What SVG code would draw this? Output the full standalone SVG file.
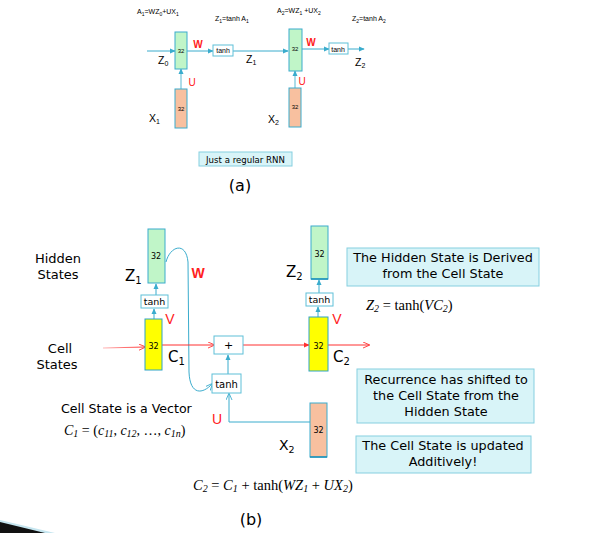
<svg xmlns="http://www.w3.org/2000/svg" width="616" height="533" viewBox="0 0 616 533">
<defs>
<marker id="ah" viewBox="0 0 8 8" refX="7" refY="4" markerWidth="6" markerHeight="6" orient="auto" markerUnits="userSpaceOnUse"><path d="M0,0.5 L8,4 L0,7.5 Z" fill="#3aaccd"/></marker>
<marker id="ahr" viewBox="0 0 8 8" refX="7" refY="4" markerWidth="7" markerHeight="7" orient="auto" markerUnits="userSpaceOnUse"><path d="M0,0.5 L8,4 L0,7.5" fill="none" stroke="#ff3030" stroke-width="1"/></marker>
<marker id="ahrf" viewBox="0 0 8 8" refX="7" refY="4" markerWidth="6" markerHeight="6" orient="auto" markerUnits="userSpaceOnUse"><path d="M0,0.5 L8,4 L0,7.5 Z" fill="#ff3030"/></marker>
<marker id="aho" viewBox="0 0 8 8" refX="7" refY="4" markerWidth="7" markerHeight="7" orient="auto" markerUnits="userSpaceOnUse"><path d="M0,0.5 L8,4 L0,7.5" fill="none" stroke="#3aaccd" stroke-width="1"/></marker>
<linearGradient id="redfade" x1="0" y1="0" x2="1" y2="0"><stop offset="0" stop-color="#ff3030" stop-opacity="0.35"/><stop offset="1" stop-color="#ff3030"/></linearGradient>
</defs>
<style>
.green{fill:#c0f5c8;stroke:#3aaccd;stroke-width:1}
.orange{fill:#f8c09f;stroke:#3aaccd;stroke-width:1}
.yellow{fill:#ffff00;stroke:#2ea3c6;stroke-width:1}
.tbox{fill:#ffffff;stroke:#5ec0d8;stroke-width:1}
.note{fill:#d8f4f8;stroke:#86cfe0;stroke-width:1}
.c{fill:none;stroke:#3aaccd;stroke-width:1}
.cl{fill:none;stroke:#8fd0e0;stroke-width:1.5}
.r{fill:none;stroke:#ff3030;stroke-width:1}
.t{font-family:"DejaVu Sans",sans-serif;fill:#000}
.h{font-family:"Liberation Sans",Arial,sans-serif;fill:#000}
.red{font-family:"Liberation Sans",Arial,sans-serif;fill:#ff2020}
.m{font-family:"Liberation Serif","DejaVu Serif",serif;fill:#000}
</style>
<rect width="616" height="533" fill="#ffffff"/>

<!-- (a) -->
<g id="a-labels">
<text class="h" x="137" y="14" font-size="7">A<tspan font-size="5" dy="1.5">1</tspan><tspan dy="-1.5">=WZ</tspan><tspan font-size="5" dy="1.5">0</tspan><tspan dy="-1.5">+UX</tspan><tspan font-size="5" dy="1.5">1</tspan></text>
<text class="h" x="215" y="21" font-size="7">Z<tspan font-size="5" dy="1.5">1</tspan><tspan dy="-1.5">=tanh A</tspan><tspan font-size="5" dy="1.5">1</tspan></text>
<text class="h" x="277" y="13" font-size="7">A<tspan font-size="5" dy="1.5">2</tspan><tspan dy="-1.5">=WZ</tspan><tspan font-size="5" dy="1.5">1</tspan><tspan dy="-1.5"> +UX</tspan><tspan font-size="5" dy="1.5">2</tspan></text>
<text class="h" x="352" y="21" font-size="7">Z<tspan font-size="5" dy="1.5">2</tspan><tspan dy="-1.5">=tanh A</tspan><tspan font-size="5" dy="1.5">2</tspan></text>
<text class="h" x="158" y="64" font-size="10.5">Z<tspan font-size="7" dy="2">0</tspan></text>
<text class="h" x="246" y="63" font-size="10.5">Z<tspan font-size="7" dy="2">1</tspan></text>
<text class="h" x="355" y="66" font-size="10.5">Z<tspan font-size="7" dy="2">2</tspan></text>
<text class="h" x="149" y="122" font-size="10.5">X<tspan font-size="7" dy="2">1</tspan></text>
<text class="h" x="268" y="123" font-size="10.5">X<tspan font-size="7" dy="2">2</tspan></text>
<text class="red" x="198" y="48" font-size="10" font-weight="bold" text-anchor="middle">W</text>
<text class="red" x="311" y="46" font-size="10" font-weight="bold" text-anchor="middle">W</text>
<text class="red" x="192" y="86" font-size="10" text-anchor="middle">U</text>
<text class="red" x="302" y="85" font-size="10" text-anchor="middle">U</text>
</g>
<g id="a-connectors">
<line class="c" x1="147" y1="51" x2="175" y2="51" marker-end="url(#ah)"/>
<line class="c" x1="187" y1="51" x2="213" y2="51" marker-end="url(#ah)"/>
<line class="c" x1="233" y1="51" x2="288" y2="51" marker-end="url(#ah)"/>
<line class="c" x1="302" y1="49" x2="329" y2="49" marker-end="url(#ah)"/>
<line class="c" x1="348" y1="49" x2="364" y2="49" marker-end="url(#ah)"/>
<line class="cl" x1="181" y1="89" x2="181" y2="69" marker-end="url(#ah)"/>
<line class="cl" x1="295" y1="88" x2="295" y2="71" marker-end="url(#ah)"/>
</g>
<g id="a-green1"><rect class="green" x="175" y="32" width="12" height="37"/><text class="h" x="181" y="53" font-size="6" text-anchor="middle">32</text></g>
<g id="a-tanh1"><rect class="tbox" x="213" y="45" width="20" height="11"/><text class="h" x="223" y="53" font-size="7" text-anchor="middle">tanh</text></g>
<g id="a-orange1"><rect class="orange" x="175" y="89" width="12" height="39"/><text class="h" x="181" y="111" font-size="6" text-anchor="middle">32</text></g>
<g id="a-green2"><rect class="green" x="289" y="29" width="13" height="42"/><text class="h" x="295" y="51" font-size="6" text-anchor="middle">32</text></g>
<g id="a-tanh2"><rect class="tbox" x="329" y="43" width="19" height="11"/><text class="h" x="338" y="51.5" font-size="7" text-anchor="middle">tanh</text></g>
<g id="a-orange2"><rect class="orange" x="289" y="88" width="12" height="39"/><text class="h" x="295" y="109" font-size="6" text-anchor="middle">32</text></g>
<g id="a-note"><rect class="note" x="199" y="152" width="93" height="14"/><text class="t" x="245.5" y="162.5" font-size="8.6" text-anchor="middle">Just a regular RNN</text></g>
<text class="t" x="240" y="191" font-size="16" text-anchor="middle">(a)</text>

<!-- (b) -->
<g id="b-connectors">
<line class="c" x1="156" y1="295" x2="156" y2="284" marker-end="url(#ah)"/>
<line class="c" x1="154" y1="319" x2="154" y2="309" marker-end="url(#ah)"/>
<line class="c" x1="319" y1="293" x2="319" y2="280" marker-end="url(#ah)"/>
<line class="c" x1="318" y1="317" x2="318" y2="307" marker-end="url(#ah)"/>
<line class="c" x1="228" y1="374" x2="228" y2="355" marker-end="url(#ah)"/>
<path class="c" d="M166,262 C170,246 186,241 188,262 L189,372 C190,396 203,394 212,384" marker-end="url(#aho)"/>
<path class="c" d="M310,422 L229,422 L229,394" marker-end="url(#aho)"/>
<line x1="103" y1="348" x2="145" y2="347.01" stroke="url(#redfade)" stroke-width="1" marker-end="url(#ahr)"/>
<line class="r" x1="162" y1="345" x2="214" y2="345" marker-end="url(#ahr)"/>
<line class="r" x1="243" y1="345" x2="309" y2="345" marker-end="url(#ahrf)"/>
<line class="r" x1="328" y1="345" x2="369" y2="345" marker-end="url(#ahr)"/>
</g>
<g id="b-labels">
<text class="t" x="58" y="263" font-size="13" text-anchor="middle">Hidden</text>
<text class="t" x="58" y="279" font-size="13" text-anchor="middle">States</text>
<text class="t" x="60" y="353" font-size="13" text-anchor="middle">Cell</text>
<text class="t" x="57" y="369" font-size="13" text-anchor="middle">States</text>
<text class="t" x="125" y="281" font-size="15">Z<tspan font-size="10" dy="3">1</tspan></text>
<text class="t" x="286" y="277" font-size="15">Z<tspan font-size="10" dy="3">2</tspan></text>
<text class="t" x="168" y="362" font-size="15">C<tspan font-size="10" dy="3">1</tspan></text>
<text class="t" x="333" y="362" font-size="15">C<tspan font-size="10" dy="3">2</tspan></text>
<text class="t" x="279" y="450" font-size="14">X<tspan font-size="9.5" dy="3">2</tspan></text>
<text class="red" x="198" y="278" font-size="14" font-weight="bold" text-anchor="middle">W</text>
<text class="red" x="170" y="324" font-size="14" text-anchor="middle">V</text>
<text class="red" x="337" y="324" font-size="14" text-anchor="middle">V</text>
<text class="red" x="217" y="424" font-size="14" text-anchor="middle">U</text>
<text class="t" x="61" y="413" font-size="12.6">Cell State is a Vector</text>
<text class="m" x="64" y="435" font-size="14" font-style="italic">C<tspan font-size="10" dy="2">1</tspan><tspan font-style="normal" dy="-2"> = (</tspan>c<tspan font-size="10" dy="2">11</tspan><tspan font-style="normal" dy="-2">, </tspan>c<tspan font-size="10" dy="2">12</tspan><tspan font-style="normal" dy="-2">, …, </tspan>c<tspan font-size="10" dy="2">1n</tspan><tspan font-style="normal" dy="-2">)</tspan></text>
<text class="m" x="193" y="490" font-size="14.5" font-style="italic">C<tspan font-size="10" dy="2">2</tspan><tspan font-style="normal" dy="-2"> = </tspan>C<tspan font-size="10" dy="2">1</tspan><tspan font-style="normal" dy="-2"> + tanh(</tspan>WZ<tspan font-size="10" dy="2">1</tspan><tspan font-style="normal" dy="-2"> + </tspan>UX<tspan font-size="10" dy="2">2</tspan><tspan font-style="normal" dy="-2">)</tspan></text>
<text class="m" x="366" y="310" font-size="14.5" font-style="italic">Z<tspan font-size="10" dy="2">2</tspan><tspan font-style="normal" dy="-2"> = tanh(</tspan>VC<tspan font-size="10" dy="2">2</tspan><tspan font-style="normal" dy="-2">)</tspan></text>
<text class="t" x="251" y="525" font-size="16" text-anchor="middle">(b)</text>
</g>
<g id="b-green1"><rect class="green" x="148" y="229" width="17" height="54"/><text class="t" x="156" y="259" font-size="8" text-anchor="middle">32</text></g>
<g id="b-tanh1"><rect class="tbox" x="141" y="295" width="27" height="13"/><text class="t" x="154.5" y="305" font-size="9.5" text-anchor="middle">tanh</text></g>
<g id="b-yellow1"><rect class="yellow" x="145" y="319" width="17" height="51"/><text class="t" x="153.5" y="349" font-size="8" text-anchor="middle">32</text></g>
<g id="b-plus"><rect class="tbox" x="214" y="336" width="29" height="18"/><text class="t" x="228.5" y="349" font-size="11" text-anchor="middle" fill="#555">+</text></g>
<g id="b-tanh3"><rect class="tbox" x="212" y="374" width="29" height="19"/><text class="t" x="226.5" y="388" font-size="10" text-anchor="middle">tanh</text></g>
<g id="b-green2"><rect class="green" x="311" y="226" width="17" height="53"/><line x1="311" y1="279" x2="328" y2="279" stroke="#1a8fb8" stroke-width="1.5"/><text class="t" x="319.5" y="257" font-size="8" text-anchor="middle">32</text></g>
<g id="b-tanh2"><rect class="tbox" x="306" y="293" width="27" height="13"/><text class="t" x="319.5" y="303" font-size="9.5" text-anchor="middle">tanh</text></g>
<g id="b-yellow2"><rect class="yellow" x="309" y="317" width="19" height="54"/><text class="t" x="318.5" y="349" font-size="8" text-anchor="middle">32</text></g>
<g id="b-orange"><rect class="orange" x="310" y="403" width="17" height="54"/><line x1="310" y1="457" x2="327" y2="457" stroke="#1a8fb8" stroke-width="1.5"/><text class="t" x="318.5" y="433" font-size="8" text-anchor="middle">32</text></g>
<g id="note1"><rect class="note" x="347" y="248" width="192" height="38"/><text class="t" x="443" y="262" font-size="12.8" text-anchor="middle">The Hidden State is Derived</text><text class="t" x="443" y="278" font-size="12.8" text-anchor="middle">from the Cell State</text></g>
<g id="note2"><rect class="note" x="357" y="369" width="177" height="54"/><text class="t" x="446" y="384" font-size="12.8" text-anchor="middle">Recurrence has shifted to</text><text class="t" x="446" y="400" font-size="12.8" text-anchor="middle">the Cell State from the</text><text class="t" x="446" y="416" font-size="12.8" text-anchor="middle">Hidden State</text></g>
<g id="note3"><rect class="note" x="356" y="436" width="175" height="37"/><text class="t" x="443" y="450" font-size="12.8" text-anchor="middle">The Cell State is updated</text><text class="t" x="443" y="466" font-size="12.8" text-anchor="middle">Additively!</text></g>
<g id="decor">
<polygon points="0,520 55,533 0,533" fill="#c6e6f0"/>
<polygon points="0,522 45,533 0,533" fill="#111111"/>
</g>
</svg>
